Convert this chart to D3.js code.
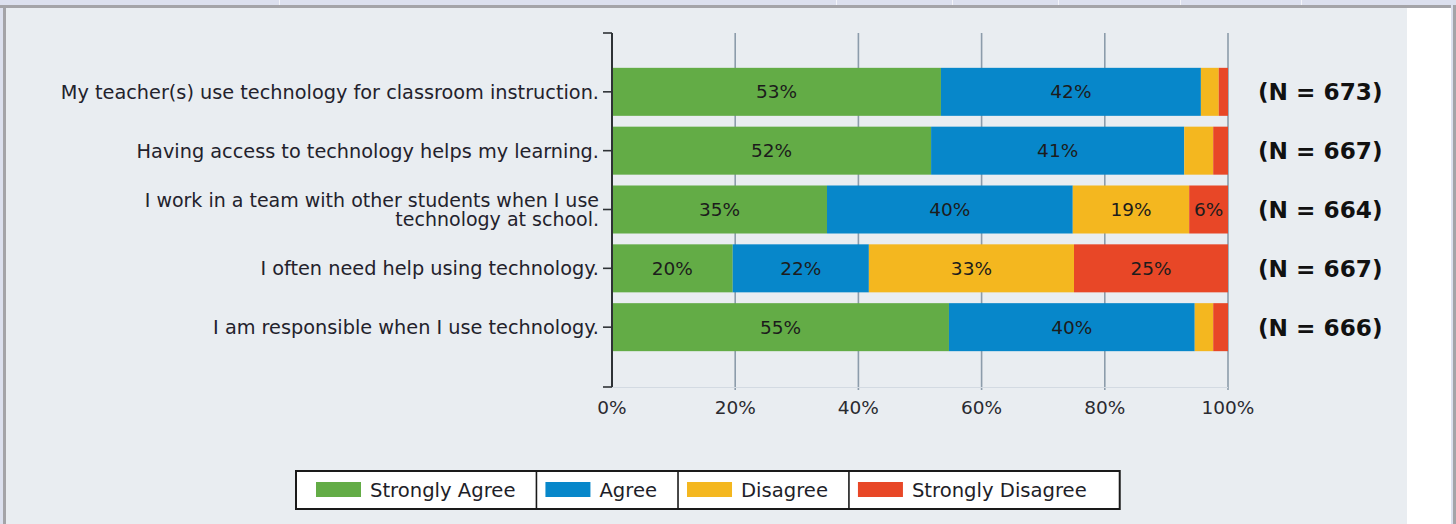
<!DOCTYPE html>
<html><head><meta charset="utf-8">
<script src="https://cdn.jsdelivr.net/npm/d3@7"></script>
<style>html,body{margin:0;padding:0;background:#fff;}svg{display:block;}</style>
</head><body>
<script>
const categories = [
  "My teacher(s) use technology for classroom instruction.",
  "Having access to technology helps my learning.",
  "I work in a team with other students when I use|technology at school.",
  "I often need help using technology.",
  "I am responsible when I use technology."
];
const seriesNames = ["Strongly Agree", "Agree", "Disagree", "Strongly Disagree"];
const stronglyAgree = [53.4, 51.8, 34.9, 19.6, 54.7];
const agree = [42.2, 41.1, 39.9, 22.1, 39.9];
const disagree = [2.9, 4.7, 18.9, 33.3, 3.0];
const stronglyDisagree = [1.5, 2.4, 6.3, 25.0, 2.4];
const nValues = [673, 667, 664, 667, 666];
const xTicks = [0, 20, 40, 60, 80, 100];
const colors = ["#63ac46", "#0787ca", "#f4b71f", "#e84727"];

const W = 1456, H = 524;
const svg = d3.select("body").append("svg").attr("width", W).attr("height", H);

// frame
svg.append("rect").attr("x",0).attr("y",0).attr("width",W).attr("height",H).attr("fill","#ffffff");
svg.append("rect").attr("x",0).attr("y",0).attr("width",W).attr("height",5).attr("fill","#dce0ee");
[279, 836, 952, 1058, 1180, 1301].forEach(x => svg.append("rect").attr("x",x).attr("y",0).attr("width",1).attr("height",5).attr("fill","#f4f5fa"));
svg.append("rect").attr("x",0).attr("y",5).attr("width",W).attr("height",3).attr("fill","#a4a4a8");
svg.append("rect").attr("x",0).attr("y",8).attr("width",3).attr("height",H).attr("fill","#dce0ee");
svg.append("rect").attr("x",3).attr("y",8).attr("width",3).attr("height",H).attr("fill","#a4a4a8");
svg.append("rect").attr("x",1451).attr("y",5).attr("width",2).attr("height",H).attr("fill","#dce0ee");
svg.append("rect").attr("x",1453).attr("y",5).attr("width",3).attr("height",H).attr("fill","#a4a4a8");
svg.append("rect").attr("x",6).attr("y",8).attr("width",1401).attr("height",H).attr("fill","#e9edf1");

const x = d3.scaleLinear().domain([0, 100]).range([612, 1228]);
const y = d3.scalePoint().domain(categories).range([33, 386]).padding(1);
const barH = 48;
const font = "'DejaVu Sans', Verdana, sans-serif";

// gridlines
svg.append("g").selectAll("line").data(xTicks.filter(d => d > 0)).join("line")
  .attr("x1", d => x(d)).attr("x2", d => x(d)).attr("y1", 33).attr("y2", 390)
  .attr("stroke", "#8c9cab").attr("stroke-width", 1.6);
svg.append("line").attr("x1", x(0)).attr("x2", x(100)).attr("y1", 387.5).attr("y2", 387.5)
  .attr("stroke", "#d3dae2").attr("stroke-width", 1);

// stacked data
const rows = categories.map((c, i) => ({cat: c, vals: [stronglyAgree[i], agree[i], disagree[i], stronglyDisagree[i]], n: nValues[i]}));
const stackGen = d3.stack().keys([0,1,2,3]).value((d, k) => d.vals[k]);
const stacked = stackGen(rows);

const g = svg.append("g");
stacked.forEach((layer, k) => {
  g.selectAll(null).data(layer).join("rect")
    .attr("x", d => x(d[0])).attr("width", d => x(d[1]) - x(d[0]))
    .attr("y", d => y(d.data.cat) - barH / 2).attr("height", barH)
    .attr("fill", colors[k]);
  g.selectAll(null).data(layer.filter(d => d[1] - d[0] >= 5)).join("text")
    .attr("x", d => (x(d[0]) + x(d[1])) / 2).attr("y", d => y(d.data.cat)).attr("dy", "0.36em")
    .attr("text-anchor", "middle").attr("font-family", font).attr("font-size", 18.5)
    .attr("fill", "#1c1c1c").text(d => Math.round(d[1] - d[0]) + "%");
});

// left axis
const axisG = svg.append("g");
axisG.append("line").attr("x1", 612).attr("x2", 612).attr("y1", 33).attr("y2", 387).attr("stroke", "#2e3236").attr("stroke-width", 2);
[33, 387].concat(categories.map(c => y(c))).forEach(v => {
  axisG.append("line").attr("x1", 603).attr("x2", 612).attr("y1", v).attr("y2", v).attr("stroke", "#2e3236").attr("stroke-width", 1.6);
});

// category labels
categories.forEach(c => {
  const lines = c.split("|");
  const fs = lines.length > 1 ? 19 : 19.3;
  const t = svg.append("text").attr("text-anchor", "end").attr("font-family", font).attr("font-size", fs)
    .attr("fill", "#23222c");
  lines.forEach((ln, j) => {
    t.append("tspan").attr("x", 599).attr("y", y(c) + (j - (lines.length - 1) / 2) * 19.5).attr("dy", "0.36em").text(ln);
  });
});

// x tick labels
svg.append("g").selectAll("text").data(xTicks).join("text")
  .attr("x", d => x(d)).attr("y", 407).attr("dy", "0.36em").attr("text-anchor", "middle")
  .attr("font-family", font).attr("font-size", 18.5).attr("fill", "#2a2a30").text(d => d + "%");

// N labels
svg.append("g").selectAll("text").data(rows).join("text")
  .attr("x", 1258).attr("y", d => y(d.cat)).attr("dy", "0.36em")
  .attr("font-family", font).attr("font-weight", "bold").attr("font-size", 23.2).attr("fill", "#111")
  .text(d => "(N = " + d.n + ")");

// legend
const leg = svg.append("g");
const legTop = 471, legH = 38;
let cx = 296;
const cells = [];
seriesNames.forEach((name, k) => {
  const padL = k === 0 ? 20 : 9;
  const tmp = leg.append("text").attr("font-family", font).attr("font-size", 19.6).attr("fill", "#1e1e28")
    .attr("x", cx + padL + 45 + 9).attr("y", legTop + legH / 2).attr("dy", "0.36em").text(name);
  const tw = tmp.node().getComputedTextLength();
  leg.append("rect").attr("x", cx + padL).attr("y", legTop + 11).attr("width", 45).attr("height", 15).attr("fill", colors[k]);
  const padR = k === seriesNames.length - 1 ? 33 : 21;
  const w = padL + 45 + 9 + tw + padR;
  cells.push([cx, w]);
  cx += w;
});
leg.insert("rect", ":first-child").attr("x", 296).attr("y", legTop).attr("width", cx - 296).attr("height", legH)
  .attr("fill", "#fff").attr("stroke", "#1a1a1a").attr("stroke-width", 2);
cells.slice(1).forEach(([cx0]) => {
  leg.append("line").attr("x1", cx0).attr("x2", cx0).attr("y1", legTop).attr("y2", legTop + legH).attr("stroke", "#1a1a1a").attr("stroke-width", 1.6);
});
</script>
</body></html>
